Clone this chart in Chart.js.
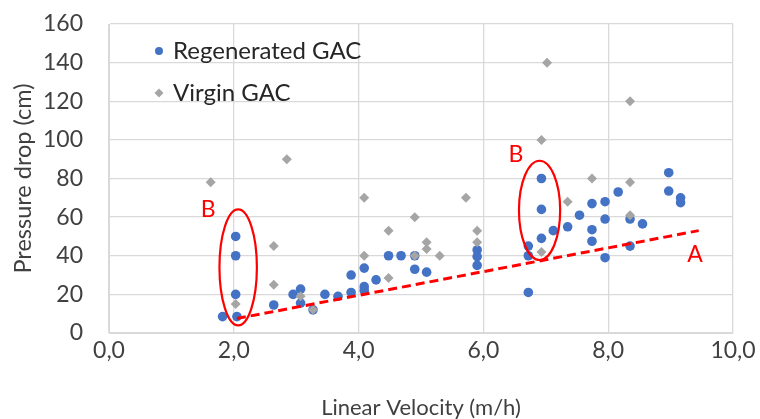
<!DOCTYPE html>
<html>
<head>
<meta charset="utf-8">
<script src="https://cdn.jsdelivr.net/npm/chart.js@4/dist/chart.umd.min.js"></script>
<style>
  html, body { margin: 0; padding: 0; background: #fff; }
  #wrap { width: 760px; height: 419px; }
</style>
</head>
<body>
<div id="wrap"><canvas id="chart" width="760" height="419"></canvas></div>
<script>
// Data
const regenX = [1.82, 2.05, 2.03, 2.03, 2.03, 2.64, 2.95, 3.07, 3.07, 3.27, 3.46, 3.67, 3.88, 3.88, 4.09, 4.09, 4.09, 4.28, 4.48, 4.68, 4.90, 4.90, 5.09, 5.90, 5.90, 5.90, 6.72, 6.72, 6.72, 6.93, 6.93, 6.93, 7.12, 7.35, 7.54, 7.74, 7.74, 7.74, 7.95, 7.95, 7.95, 8.16, 8.35, 8.35, 8.55, 8.97, 8.97, 9.16, 9.16];
const regenY = [8.5, 8.5, 20, 40, 50, 14.5, 20, 22.7, 15.5, 12, 20, 19, 21, 30, 24, 22, 33.6, 27.5, 40, 40, 40, 33, 31.5, 43, 39.6, 35, 45, 40, 21, 80, 64, 49, 53, 55, 61, 67, 53.5, 47.5, 68, 59, 39, 73, 59, 45, 56.5, 83, 73.5, 70, 67.5];

const virginX = [1.63, 2.03, 2.64, 2.64, 2.85, 3.07, 3.27, 4.09, 4.09, 4.48, 4.48, 4.90, 4.90, 5.09, 5.09, 5.30, 5.72, 5.90, 5.90, 6.93, 6.93, 7.02, 7.35, 7.74, 8.35, 8.35, 8.35];
const virginY = [78, 15, 45, 25, 90, 19, 12, 70, 40, 53, 28.5, 60, 40, 47, 43.5, 40, 70, 53, 47, 100, 42, 140, 68, 80, 120, 78, 61];

// trend line "A"
const lineAX = [2.05, 9.45];
const lineAY = [7.5, 53];

const xTicks = [0, 2, 4, 6, 8, 10];
const yTicks = [0, 20, 40, 60, 80, 100, 120, 140, 160];

// annotation marks (data units)
const ellipseCX = [2.07, 6.90];
const ellipseCY = [34, 63.5];
const ellipseRX = [0.30, 0.33];
const ellipseRY = [30, 25.7];
const labelText = ['B', 'B', 'A'];
const labelX = [1.59, 6.52, 9.39];
const labelY = [64, 92.5, 40.5];

const legendNames = ['Regenerated GAC', 'Virgin GAC'];

const BLUE = '#4472C4';
const GRAY = '#A5A5A5';
const RED = '#FF0000';
const FONT = 'Lato, "Open Sans", sans-serif';

function toPoints(xs, ys) {
    return xs.map((x, i) => ({ x: x, y: ys[i] }));
}

// Draws the ellipses, letters and the legend inside the plot
const annotations = {
    id: 'annotations',
    afterDatasetsDraw(chart) {
        const ctx = chart.ctx;
        const xs = chart.scales.x;
        const ys = chart.scales.y;
        const area = chart.chartArea;

        ctx.save();
        ctx.strokeStyle = RED;
        ctx.lineWidth = 2.2;
        ellipseCX.forEach((cx, i) => {
            const px = xs.getPixelForValue(cx);
            const py = ys.getPixelForValue(ellipseCY[i]);
            const rx = xs.getPixelForValue(cx + ellipseRX[i]) - px;
            const ry = py - ys.getPixelForValue(ellipseCY[i] + ellipseRY[i]);
            ctx.beginPath();
            ctx.ellipse(px, py, rx, ry, 0, 0, Math.PI * 2);
            ctx.stroke();
        });

        ctx.fillStyle = RED;
        ctx.font = '23px ' + FONT;
        ctx.textAlign = 'center';
        ctx.textBaseline = 'middle';
        labelText.forEach((t, i) => {
            ctx.fillText(t, xs.getPixelForValue(labelX[i]), ys.getPixelForValue(labelY[i]));
        });

        // legend
        const lx = area.left + 50;
        const ly = area.top + 27;
        ctx.font = '24px ' + FONT;
        ctx.textAlign = 'left';
        ctx.fillStyle = '#262626';
        ctx.fillText(legendNames[0], lx + 14, ly);
        ctx.fillText(legendNames[1], lx + 14, ly + 42);
        ctx.fillStyle = BLUE;
        ctx.beginPath();
        ctx.arc(lx, ly, 4, 0, Math.PI * 2);
        ctx.fill();
        ctx.fillStyle = GRAY;
        ctx.beginPath();
        ctx.moveTo(lx, ly + 42 - 4.5);
        ctx.lineTo(lx + 4.5, ly + 42);
        ctx.lineTo(lx, ly + 42 + 4.5);
        ctx.lineTo(lx - 4.5, ly + 42);
        ctx.closePath();
        ctx.fill();
        ctx.restore();
    }
};

const ctx = document.getElementById('chart').getContext('2d');
new Chart(ctx, {
    type: 'scatter',
    data: {
        datasets: [
            {
                label: 'A',
                type: 'line',
                data: toPoints(lineAX, lineAY),
                borderColor: RED,
                borderWidth: 3,
                borderDash: [9, 5],
                pointRadius: 0,
                fill: false,
                order: 0
            },
            {
                label: legendNames[1],
                data: toPoints(virginX, virginY),
                pointStyle: 'rectRot',
                pointRadius: 5,
                backgroundColor: GRAY,
                borderColor: GRAY,
                borderWidth: 0,
                order: 1
            },
            {
                label: legendNames[0],
                data: toPoints(regenX, regenY),
                pointStyle: 'circle',
                pointRadius: 4.8,
                backgroundColor: BLUE,
                borderColor: BLUE,
                borderWidth: 0,
                order: 2
            }
        ]
    },
    options: {
        responsive: false,
        animation: false,
        layout: { padding: { left: 4, right: 27, top: 24, bottom: 0 } },
        plugins: {
            legend: { display: false },
            tooltip: { enabled: false }
        },
        scales: {
            x: {
                type: 'linear',
                min: 0,
                max: 10,
                afterBuildTicks: s => { s.ticks = xTicks.map(v => ({ value: v })); },
                afterFit: s => {
                    s.height = 86;
                    s.paddingLeft = 0;
                    s.paddingRight = 0;
                },
                ticks: {
                    color: '#404040',
                    font: { family: FONT, size: 23 },
                    padding: 4,
                    callback: v => v.toFixed(1).replace('.', ',')
                },
                grid: { color: '#D9D9D9', lineWidth: 1.3, drawTicks: false },
                border: { color: '#D9D9D9' },
                title: {
                    display: true,
                    text: 'Linear Velocity (m/h)',
                    color: '#404040',
                    font: { family: FONT, size: 22, lineHeight: 1.0 },
                    padding: { top: 0, bottom: 0 }
                }
            },
            y: {
                min: 0,
                max: 160,
                afterBuildTicks: s => { s.ticks = yTicks.map(v => ({ value: v })); },
                afterFit: s => {
                    s.width = 105;
                    s.paddingTop = 0;
                    s.paddingBottom = 0;
                },
                ticks: {
                    color: '#404040',
                    font: { family: FONT, size: 23 },
                    padding: 26
                },
                grid: { color: '#D9D9D9', lineWidth: 1.3, drawTicks: false },
                border: { color: '#D9D9D9' },
                title: {
                    display: true,
                    text: 'Pressure drop (cm)',
                    color: '#404040',
                    font: { family: FONT, size: 23.5, lineHeight: 1.0 },
                    padding: { top: 8, bottom: 0 }
                }
            }
        }
    },
    plugins: [annotations]
});
</script>
</body>
</html>
